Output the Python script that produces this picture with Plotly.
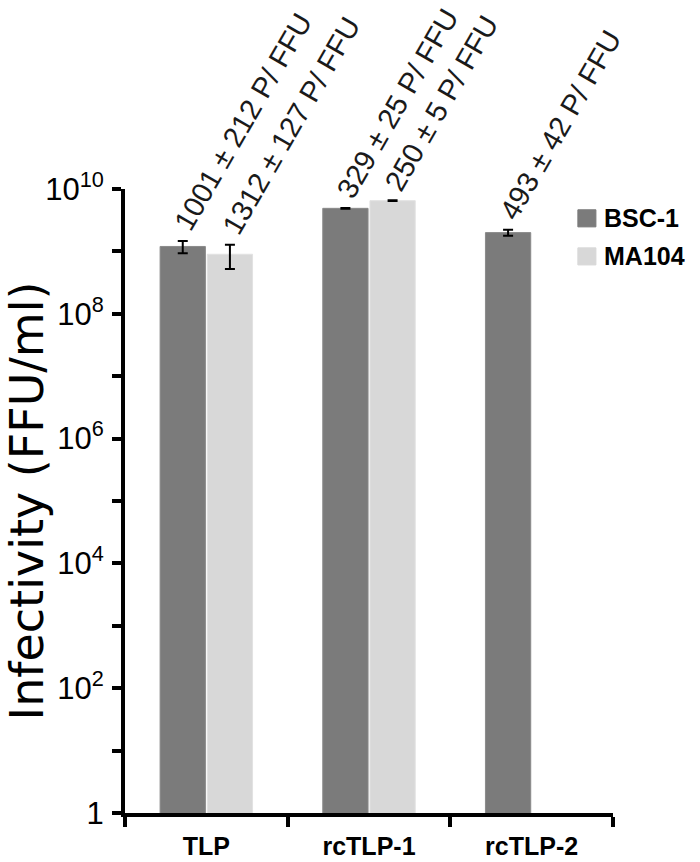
import math
import plotly.graph_objects as go

# ---- data ----
categories = ["TLP", "rcTLP-1", "rcTLP-2"]
series_names = ["BSC-1", "MA104"]
bsc1_values = [1.2e9, 4.9e9, 2.0e9]
bsc1_errors = [0.27e9, 0.08e9, 0.22e9]
ma104_values = [0.9e9, 6.5e9, None]
ma104_errors = [0.38e9, 0.08e9, None]
bsc1_ratio_labels = ["1001 ± 212 P/ FFU", "329 ± 25 P/ FFU", "493 ± 42 P/ FFU"]
ma104_ratio_labels = ["1312 ± 127 P/ FFU", "250 ± 5 P/ FFU", None]
ytick_values = [1, 1e2, 1e4, 1e6, 1e8, 1e10]
ytick_labels = ["1", "10<sup>2</sup>", "10<sup>4</sup>", "10<sup>6</sup>", "10<sup>8</sup>", "10<sup>10</sup>"]
yminor_values = [1e1, 1e3, 1e5, 1e7, 1e9]

DARK = "#7b7b7b"
LIGHT = "#d8d8d8"
ANN_FONT = 29
ANGLE = -60
FONT = "Liberation Sans, Arial, sans-serif"

fig = go.Figure()
fig.add_trace(go.Bar(
    name=series_names[0], x=categories, y=bsc1_values, showlegend=False,
    marker=dict(color=DARK, line=dict(color="#8a8a8a", width=1)),
    error_y=dict(type="data", array=bsc1_errors, color="black", thickness=2, width=5),
))
fig.add_trace(go.Bar(
    name=series_names[1], x=categories, y=ma104_values, showlegend=False,
    marker=dict(color=LIGHT, line=dict(color="#e2e2e2", width=1)),
    error_y=dict(type="data", array=[e if e is not None else 0 for e in ma104_errors],
                 color="black", thickness=2, width=5),
))

# rotated ratio annotations
H = ANN_FONT * 1.15 + 2
base_x = -math.sin(math.radians(-ANGLE)) * H
for series_off, vals, errs, labels in [(-23.5, bsc1_values, bsc1_errors, bsc1_ratio_labels),
                                       (24.5, ma104_values, ma104_errors, ma104_ratio_labels)]:
    for cat, v, e, lab in zip(categories, vals, errs, labels):
        if v is None or lab is None:
            continue
        fig.add_annotation(
            x=cat, y=math.log10(v + e), xref="x", yref="y",
            text=lab, showarrow=False, textangle=ANGLE,
            xanchor="left", yanchor="bottom",
            xshift=series_off + 13 + base_x, yshift=2,
            font=dict(family=FONT, size=ANN_FONT, color="#1a1a1a"),
        )

# legend (drawn as swatches + labels in paper coordinates)
legend_colors = [DARK, LIGHT]
legend_rows_y = [0.953, 0.892]
for name, col, yc in zip(series_names, legend_colors, legend_rows_y):
    fig.add_shape(type="rect", xref="paper", yref="paper",
                  x0=0.928, x1=0.965, y0=yc - 0.0137, y1=yc + 0.0137,
                  fillcolor=col, line=dict(color=col, width=1))
    fig.add_annotation(x=0.978, y=yc, xref="paper", yref="paper", text=f"<b>{name}</b>",
                       showarrow=False, xanchor="left", yanchor="middle",
                       font=dict(family=FONT, size=25, color="black"))

fig.update_layout(
    width=700, height=862, autosize=False,
    margin=dict(l=125, r=87, t=189, b=49, autoexpand=False),
    paper_bgcolor="white", plot_bgcolor="white",
    barmode="group", bargap=0.42, bargroupgap=0.04,
    font=dict(family=FONT, color="black"),
    showlegend=False,
)
fig.update_xaxes(
    range=[-0.5, len(categories) - 0.5], autorange=False,
    showline=True, linecolor="black", linewidth=4,
    ticks="outside", tickson="boundaries", ticklen=10, tickwidth=4, tickcolor="black",
    tickfont=dict(family=FONT, size=25, color="black", weight="bold"),
    showgrid=False, zeroline=False, automargin=False, ticklabelstandoff=8,
)
fig.update_yaxes(
    type="log", range=[0, 10], autorange=False,
    tickmode="array", tickvals=ytick_values, ticktext=ytick_labels,
    minor=dict(tickmode="array", tickvals=yminor_values, ticks="outside",
               ticklen=9, tickwidth=4, tickcolor="black", showgrid=False),
    showline=True, linecolor="black", linewidth=4,
    ticks="outside", ticklen=9, tickwidth=4, tickcolor="black",
    tickfont=dict(family=FONT, size=31, color="black"),
    showgrid=False, zeroline=False, automargin=False, ticklabelstandoff=2,
    title=dict(text="Infectivity (FFU/ml)", standoff=22,
               font=dict(family="DejaVu Sans, sans-serif", size=46, color="black")),
)

fig.write_html("out.html", config={"displayModeBar": False, "responsive": False},
               post_script="document.body.style.margin='0';")
